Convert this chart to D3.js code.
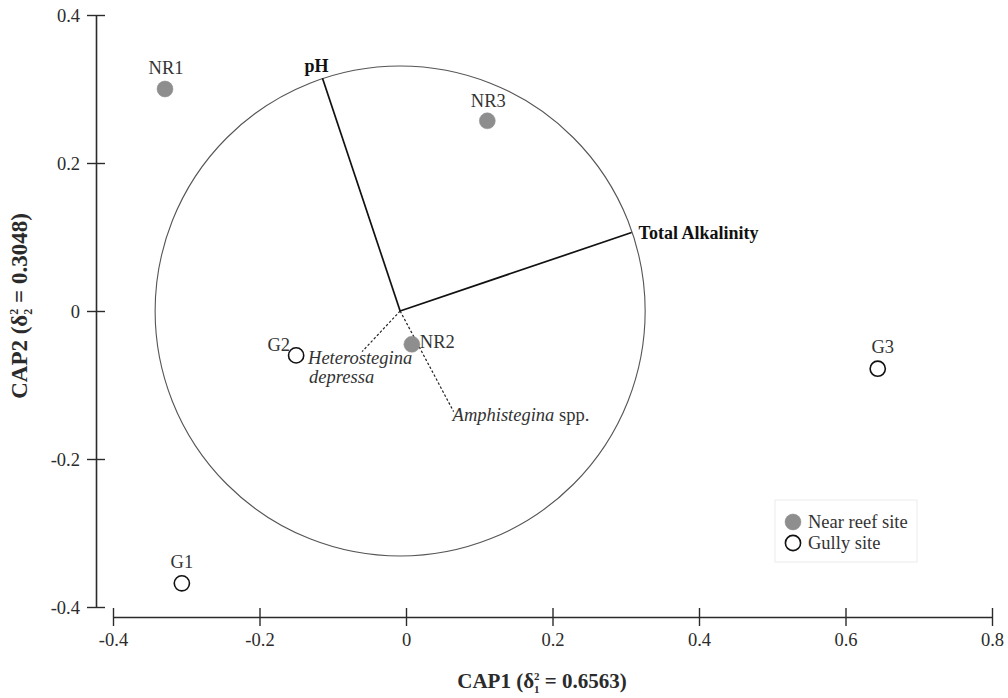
<!DOCTYPE html>
<html>
<head>
<meta charset="utf-8">
<script src="https://cdn.jsdelivr.net/npm/d3@7"></script>
<style>
  html, body { margin: 0; padding: 0; background: #fff; }
  svg { display: block; font-family: "Liberation Serif", "Times New Roman", serif; }
</style>
</head>
<body>
<svg id="chart" width="1008" height="698"></svg>
<script>
// Sites: CAP1 / CAP2 scores
const siteNames = ["NR1", "NR2", "NR3", "G1", "G2", "G3"];
const siteGroup = ["reef", "reef", "reef", "gully", "gully", "gully"];
const cap1 = [-0.329, 0.008, 0.111, -0.306, -0.150, 0.644];
const cap2 = [0.300, -0.045, 0.257, -0.368, -0.060, -0.078];

// Environmental vectors (solid) and species vectors (dotted)
const envNames = ["pH", "Total Alkalinity"];
const envX = [-0.114, 0.308];
const envY = [0.3145, 0.106];
const sppNames = ["Heterostegina depressa", "Amphistegina spp."];
const sppX = [-0.060, 0.065];
const sppY = [-0.055, -0.136];

// Correlation circle centre and radius (CAP1 units)
const circleCentre = [-0.008, 0.0];
const circleRadius = 0.3345;

const xTicks = [-0.4, -0.2, 0, 0.2, 0.4, 0.6, 0.8];
const xTickLabels = ["-0.4", "-0.2", "0", "0.2", "0.4", "0.6", "0.8"];
const yTicks = [-0.4, -0.2, 0, 0.2, 0.4];
const yTickLabels = ["-0.4", "-0.2", "0", "0.2", "0.4"];

const svg = d3.select("#chart");
const ink = "#2b2b2b";
const fs = 18.5;

const x = d3.scaleLinear().domain([-0.4, 0.8]).range([113, 992]);
const y = d3.scaleLinear().domain([-0.4, 0.4]).range([607, 15]);

// ---- axes (detached, ticks crossing the line) ----
const xAxisY = 617, yAxisX = 96, tk = 9;

const gx = svg.append("g").attr("transform", `translate(0,${xAxisY})`)
  .call(d3.axisBottom(x).tickValues(xTicks).tickSizeInner(tk).tickSizeOuter(0)
    .tickFormat((d, i) => xTickLabels[i]));
gx.select(".domain").attr("stroke", ink).attr("stroke-width", 1.6);
gx.selectAll(".tick line").attr("y1", -tk).attr("y2", tk).attr("stroke", ink).attr("stroke-width", 1.4);
gx.selectAll(".tick text").attr("y", 29).attr("dy", 0)
  .attr("font-size", fs).attr("fill", ink).attr("font-family", "Liberation Serif");

const gy = svg.append("g").attr("transform", `translate(${yAxisX},0)`)
  .call(d3.axisLeft(y).tickValues(yTicks).tickSizeInner(tk).tickSizeOuter(0)
    .tickFormat((d, i) => yTickLabels[i]));
gy.select(".domain").attr("stroke", ink).attr("stroke-width", 1.6);
gy.selectAll(".tick line").attr("x1", -tk).attr("x2", tk).attr("stroke", ink).attr("stroke-width", 1.4);
gy.selectAll(".tick text").attr("x", -16).attr("dy", "0.34em")
  .attr("font-size", fs).attr("fill", ink).attr("font-family", "Liberation Serif");

// ---- axis titles: CAPn (δn² = value) with stacked sub/superscript ----
function capTitle(sel, name, sub, val, size) {
  const small = Math.round(size * 0.5);
  sel.append("tspan").text(name + " (δ");
  sel.append("tspan").attr("font-size", small).attr("dy", size * 0.22).text(sub);
  sel.append("tspan").attr("font-size", small).attr("dx", -small * 0.5).attr("dy", -size * 0.6).text("2");
  sel.append("tspan").attr("dy", size * 0.38).text(" = " + val + ")");
}
const xTitleSize = 21;
const xTitle = svg.append("text")
  .attr("x", 542).attr("y", 688).attr("text-anchor", "middle")
  .attr("font-size", xTitleSize).attr("font-weight", "bold").attr("fill", ink);
capTitle(xTitle, "CAP1", "1", "0.6563", xTitleSize);

const yTitleSize = 23;
const yTitle = svg.append("text")
  .attr("transform", "translate(27,306) rotate(-90)")
  .attr("text-anchor", "middle")
  .attr("font-size", yTitleSize).attr("font-weight", "bold").attr("fill", ink);
capTitle(yTitle, "CAP2", "2", "0.3048", yTitleSize);

// ---- correlation circle ----
const cx0 = x(circleCentre[0]), cy0 = y(circleCentre[1]);
svg.append("circle")
  .attr("cx", cx0).attr("cy", cy0)
  .attr("r", x(circleRadius) - x(0))
  .attr("fill", "none").attr("stroke", "#555").attr("stroke-width", 1.1);

// environmental vectors
const env = envNames.map((n, i) => ({ n, vx: envX[i], vy: envY[i] }));
svg.selectAll(".env").data(env).join("line")
  .attr("x1", cx0).attr("y1", cy0)
  .attr("x2", d => x(d.vx)).attr("y2", d => y(d.vy))
  .attr("stroke", "#111").attr("stroke-width", 1.7);

const envLabelPos = { "pH": { dx: -6, dy: -6, anchor: "middle" },
                      "Total Alkalinity": { dx: 7, dy: 6, anchor: "start" } };
svg.selectAll(".envlab").data(env).join("text")
  .attr("x", d => x(d.vx) + envLabelPos[d.n].dx)
  .attr("y", d => y(d.vy) + envLabelPos[d.n].dy)
  .attr("text-anchor", d => envLabelPos[d.n].anchor)
  .attr("font-size", 18).attr("font-weight", "bold").attr("fill", "#111")
  .text(d => d.n);

// species vectors
const spp = sppNames.map((n, i) => ({ n, vx: sppX[i], vy: sppY[i] }));
svg.selectAll(".spp").data(spp).join("line")
  .attr("x1", cx0).attr("y1", cy0)
  .attr("x2", d => x(d.vx)).attr("y2", d => y(d.vy))
  .attr("stroke", "#222").attr("stroke-width", 1.2).attr("stroke-dasharray", "2.5,2");

// species labels
const hd = spp[0], am = spp[1];
const hdLab = svg.append("text").attr("font-size", fs).attr("font-style", "italic").attr("fill", "#333");
hdLab.append("tspan").attr("x", x(hd.vx) - 54).attr("y", y(hd.vy) + 12).text("Heterostegina");
hdLab.append("tspan").attr("x", x(hd.vx) - 53).attr("y", y(hd.vy) + 31).text("depressa");
const amLab = svg.append("text").attr("x", x(am.vx) - 1).attr("y", y(am.vy) + 9)
  .attr("font-size", fs).attr("fill", "#333");
amLab.append("tspan").attr("font-style", "italic").text("Amphistegina");
amLab.append("tspan").text(" spp.");

// ---- site points ----
const sites = siteNames.map((n, i) => ({ n, g: siteGroup[i], vx: cap1[i], vy: cap2[i] }));
const fillFor = g => g === "reef" ? "#8e8e8e" : "#fff";

svg.selectAll(".site").data(sites).join("circle")
  .attr("cx", d => x(d.vx)).attr("cy", d => y(d.vy))
  .attr("r", d => d.g === "reef" ? 8 : 7.6)
  .attr("fill", d => fillFor(d.g))
  .attr("stroke", d => d.g === "reef" ? "#8e8e8e" : "#111")
  .attr("stroke-width", d => d.g === "reef" ? 0.5 : 1.6);

const siteLabelPos = {
  NR1: { dx: 1, dy: -15, anchor: "middle" },
  NR2: { dx: 8, dy: 4, anchor: "start" },
  NR3: { dx: 1, dy: -14, anchor: "middle" },
  G1: { dx: 0, dy: -15, anchor: "middle" },
  G2: { dx: -6, dy: -4, anchor: "end" },
  G3: { dx: 5, dy: -16, anchor: "middle" }
};
svg.selectAll(".sitelab").data(sites).join("text")
  .attr("x", d => x(d.vx) + siteLabelPos[d.n].dx)
  .attr("y", d => y(d.vy) + siteLabelPos[d.n].dy)
  .attr("text-anchor", d => siteLabelPos[d.n].anchor)
  .attr("font-size", fs).attr("fill", "#333")
  .text(d => d.n);

// ---- legend ----
const legendItems = [{ g: "reef", label: "Near reef site" }, { g: "gully", label: "Gully site" }];
const lg = svg.append("g").attr("transform", "translate(775,500)");
lg.append("rect").attr("width", 142).attr("height", 62)
  .attr("fill", "#fff").attr("stroke", "#ebebeb").attr("stroke-width", 1);
const li = lg.selectAll(".li").data(legendItems).join("g")
  .attr("transform", (d, i) => `translate(0,${22 + i * 21})`);
li.append("circle").attr("cx", 18).attr("r", d => d.g === "reef" ? 8 : 7.6)
  .attr("fill", d => fillFor(d.g))
  .attr("stroke", d => d.g === "reef" ? "#8e8e8e" : "#111")
  .attr("stroke-width", d => d.g === "reef" ? 0.5 : 1.6);
li.append("text").attr("x", 33).attr("y", 6)
  .attr("font-size", fs).attr("fill", "#333").text(d => d.label);
</script>
</body>
</html>
